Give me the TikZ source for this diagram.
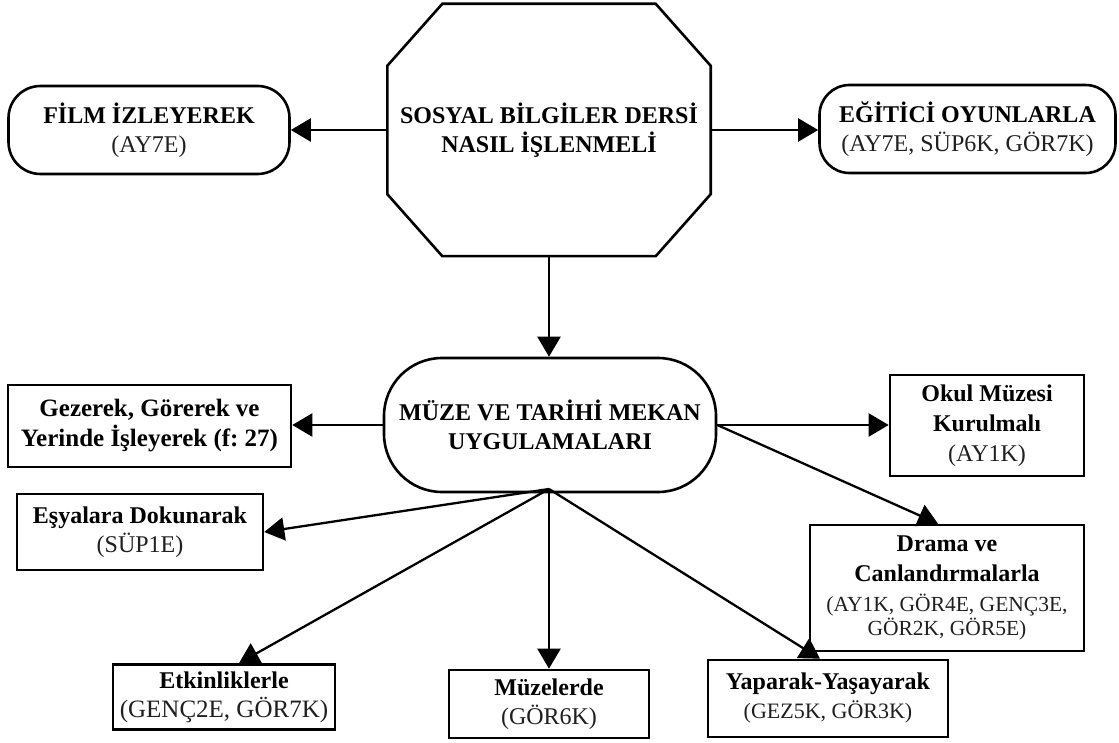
\documentclass[tikz,border=0pt]{standalone}
\usepackage{fontspec}
\setmainfont{Liberation Serif}
\usetikzlibrary{arrows.meta,calc}
\frenchspacing
\begin{document}
\begin{tikzpicture}[x=1pt,y=-1pt,
  base/.style={align=center, inner sep=0pt, font=\fontsize{24}{29}\selectfont, text=black},
  boxn/.style={base, draw, line width=2.6pt, rectangle},
  pill/.style={base, draw, line width=2.6pt, rounded corners=32pt},
  arr/.style={-{Triangle[length=20pt,width=23pt]}, line width=2.3pt}]
\newcommand{\cd}[1]{\textcolor{black!88}{#1}}
\useasboundingbox (0,0) rectangle (1119,743);
\fill[white] (0,0) rectangle (1119,743);

% top
\node[base, minimum width=323pt, minimum height=252pt] (oct) at (549,130)
  {\textbf{SOSYAL BİLGİLER DERSİ}\\\textbf{NASIL İŞLENMELİ}};
\draw[line width=2.6pt] ($(oct.north west)+(55,0)$) -- ($(oct.north east)+(-55,0)$)
  -- ($(oct.north east)+(0,62)$) -- ($(oct.south east)+(0,-62)$)
  -- ($(oct.south east)+(-55,0)$) -- ($(oct.south west)+(55,0)$)
  -- ($(oct.south west)+(0,-62)$) -- ($(oct.north west)+(0,62)$) -- cycle;

\node[pill, minimum width=281pt, minimum height=88pt] (film) at (149,130)
  {\textbf{FİLM İZLEYEREK}\\\cd{(AY7E)}};
\node[pill, rounded corners=30pt, minimum width=296pt, minimum height=88pt] (egit) at (967.5,129)
  {\textbf{EĞİTİCİ OYUNLARLA}\\\cd{(AY7E, SÜP6K, GÖR7K)}};

% middle
\node[pill, rounded corners=58pt, minimum width=332pt, minimum height=134pt] (muze) at (550,425)
  {\textbf{MÜZE VE TARİHİ MEKAN}\\\textbf{UYGULAMALARI}};
\node[boxn, font=\fontsize{25}{30}\selectfont, minimum width=283pt, minimum height=82pt] (gez) at (149.5,426)
  {\textbf{Gezerek, Görerek ve}\\\textbf{Yerinde İşleyerek (f: 27)}};
\node[boxn, minimum width=194pt, minimum height=101pt] (okul) at (987,425.5)
  {\textbf{Okul Müzesi}\\[1pt]\textbf{Kurulmalı}\\[1pt]\cd{(AY1K)}};
\node[boxn, minimum width=274pt, minimum height=126pt] (drama) at (947,588)
  {\textbf{Drama ve}\\[1pt]\textbf{Canlandırmalarla}\\[1pt]%
   \cd{\fontsize{21.5}{24}\selectfont(AY1K, GÖR4E, GENÇ3E,}\\[-5.5pt]%
   \cd{\fontsize{21.5}{24}\selectfont GÖR2K, GÖR5E)}};
\node[boxn, minimum width=246pt, minimum height=76pt] (esya) at (140,532)
  {\textbf{Eşyalara Dokunarak}\\\cd{(SÜP1E)}};

% bottom
\node[boxn, minimum width=222pt, minimum height=65pt] (etk) at (224,697)
  {\textbf{Etkinliklerle}\\\cd{\fontsize{25}{29}\selectfont(GENÇ2E, GÖR7K)}};
\node[boxn, minimum width=200pt, minimum height=68pt] (muz) at (549,704)
  {\textbf{Müzelerde}\\\cd{(GÖR6K)}};
\node[boxn, minimum width=240pt, minimum height=77pt] (yap) at (828,698.5)
  {\textbf{Yaparak-Yaşayarak}\\\cd{\fontsize{22}{27}\selectfont(GEZ5K, GÖR3K)}};

% connectors
\draw[arr] (oct.west) -- (oct.west -| film.east);
\draw[arr] (oct.east) -- (oct.east -| egit.west);
\draw[arr] (oct.south) -- (oct.south |- muze.north);
\draw[arr] (muze.west) -- (muze.west -| gez.east);
\draw[arr] (muze.east) -- (muze.east -| okul.west);
\draw[arr] (muze.east) -- ($(drama.north)+(-9,0)$);
\coordinate (hub) at (549,489);
\draw[arr] (hub) -- (esya.east);
\draw[arr] (hub) -- ($(etk.north)+(15,0)$);
\draw[arr] (hub) -- (muz.north);
\draw[arr] (hub) -- ($(yap.north)+(-8,0)$);
\end{tikzpicture}
\end{document}
